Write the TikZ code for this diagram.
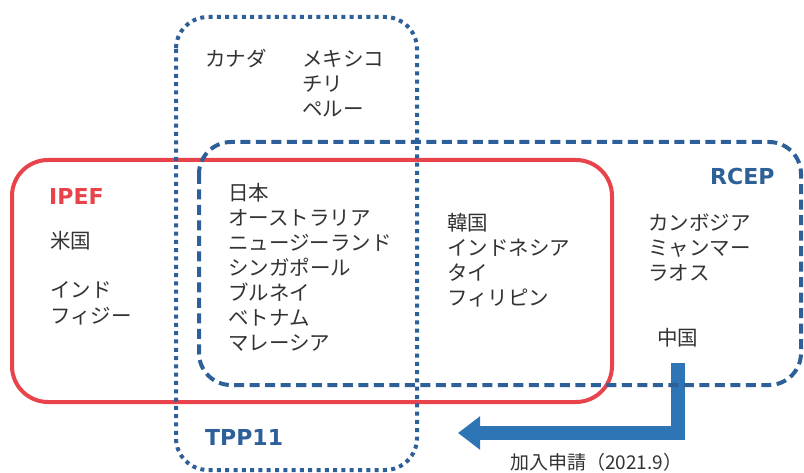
\documentclass[tikz,border=0pt]{standalone}
\usepackage{fontspec}
\newfontfamily\jpfont{Noto Sans CJK JP}
\newfontfamily\latfont{DejaVu Sans}
\usetikzlibrary{arrows.meta}
\definecolor{ipefred}{HTML}{E8434B}
\definecolor{frameblue}{HTML}{2D5F98}
\definecolor{arrowblue}{HTML}{2E75B6}
\definecolor{textgray}{HTML}{333333}
\tikzset{
  jp/.style={anchor=base west, inner sep=0pt, text=textgray, font=\jpfont\fontsize{20.5}{24}\selectfont},
  jpsmall/.style={anchor=base west, inner sep=0pt, text=textgray, font=\jpfont\fontsize{19}{22}\selectfont},
  title/.style={anchor=base west, inner sep=0pt, font=\latfont\bfseries\fontsize{22}{26}\selectfont},
  tppbox/.style={draw=frameblue, line width=4pt, dash pattern=on 4pt off 4.3pt, rounded corners=32pt},
  rcepbox/.style={draw=frameblue, line width=4pt, dash pattern=on 10pt off 5.5pt, rounded corners=32pt},
  ipefbox/.style={draw=ipefred, line width=4pt, rounded corners=36pt},
  joinarrow/.style={draw=arrowblue, line width=14pt, line join=miter,
    -{Triangle[length=22pt,width=32pt]}},
}
\begin{document}
\begin{tikzpicture}[x=1pt,y=-1pt]
\useasboundingbox (0,0) rectangle (804,473);
% arrow (drawn first, frames overlay it)
\node[jp] (cn) at (657,345) {中国};
\coordinate (arrEnd) at (458,433);
\draw[joinarrow] ([yshift=-16pt]cn.south) |- (arrEnd);
% frames
\draw[ipefbox] (12,160) rectangle (612,402);
\draw[rcepbox] (199,142) rectangle (801,385);
\draw[tppbox] (176,17) rectangle (417,470);
% titles
\node[title, text=ipefred] (ipef) at (49,205) {IPEF};
\node[title, text=frameblue] (rcep) at (710,185) {RCEP};
\node[title, text=frameblue] (tpp) at (205,445) {TPP11};
% TPP only
\node[jp] (ca) at (205,67) {カナダ};
\node[jp] (mx) at (302,67) {メキシコ};
\node[jp] (cl) at (302,92) {チリ};
\node[jp] (pe) at (302,117) {ペルー};
% IPEF only
\node[jp] (us) at (50,249) {米国};
\node[jp] (in) at (50,298) {インド};
\node[jp] (fj) at (50,324) {フィジー};
% all three
\foreach \t [count=\i] in {日本,オーストラリア,ニュージーランド,シンガポール,ブルネイ,ベトナム,マレーシア}
  \node[jp] (core\i) at (228,{201+(\i-1)*24.9}) {\t};
% IPEF & RCEP
\foreach \t [count=\i] in {韓国,インドネシア,タイ,フィリピン}
  \node[jp] (ir\i) at (447,{231+(\i-1)*25}) {\t};
% RCEP only
\foreach \t [count=\i] in {カンボジア,ミャンマー,ラオス}
  \node[jp] (rc\i) at (648,{231+(\i-1)*25}) {\t};
% application label
\node[jpsmall] (apply) at (510,469) {加入申請（2021.9）};
\end{tikzpicture}
\end{document}
